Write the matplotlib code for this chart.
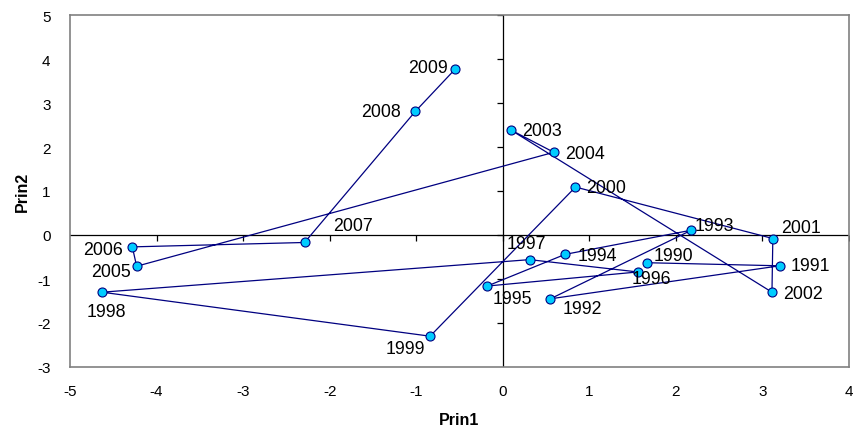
import matplotlib
matplotlib.use("Agg")
import matplotlib.pyplot as plt

plt.rcParams['font.family'] = ['Liberation Sans', 'DejaVu Sans']
plt.rcParams['axes.unicode_minus'] = False

# PCA scores by year
years = [1990, 1991, 1992, 1993, 1994, 1995, 1996, 1997, 1998, 1999,
         2000, 2001, 2002, 2003, 2004, 2005, 2006, 2007, 2008, 2009]
prin1 = [1.67, 3.20, 0.55, 2.18, 0.72, -0.18, 1.56, 0.31, -4.63, -0.84,
         0.84, 3.12, 3.11, 0.09, 0.59, -4.23, -4.28, -2.29, -1.01, -0.55]
prin2 = [-0.63, -0.70, -1.45, 0.11, -0.44, -1.16, -0.84, -0.56, -1.30, -2.30,
         1.09, -0.08, -1.30, 2.39, 1.88, -0.71, -0.27, -0.17, 2.81, 3.77]

x_ticks = [-5, -4, -3, -2, -1, 0, 1, 2, 3, 4]
y_ticks = [-3, -2, -1, 0, 1, 2, 3, 4, 5]

# label offsets in pixels (dx right, dy down)
label_offsets = {
    1990: (26, -7), 1991: (31, 0), 1992: (32, 10), 1993: (23, -5),
    1994: (32, 1), 1995: (25, 12), 1996: (14, 7), 1997: (-3, -16),
    1998: (4, 19), 1999: (-25, 12), 2000: (31, 0), 2001: (28, -11),
    2002: (31, 1), 2003: (31, 1), 2004: (31, 1), 2005: (-26, 5),
    2006: (-29, 3), 2007: (48, -17), 2008: (-34, 0), 2009: (-27, -2),
}

fig = plt.figure(figsize=(8.56, 4.35), dpi=100)
ax = fig.add_axes([70 / 856, 67 / 435, 779 / 856, 352 / 435])

ax.set_xlim(-5, 4)
ax.set_ylim(-3, 5)
for s in ax.spines.values():
    s.set_color('#808080')
    s.set_linewidth(1.2)

ax.set_xticks(x_ticks)
ax.set_yticks(y_ticks)
ax.tick_params(length=0, labelsize=11, colors='black')
ax.tick_params(axis='x', pad=12)
ax.tick_params(axis='y', pad=14)

# axes through the origin with their tick marks
ax.axhline(0, color='black', lw=0.9, zorder=1)
ax.axvline(0, color='black', lw=0.9, zorder=1)
ax.plot(x_ticks[1:], [0] * (len(x_ticks) - 1), ls='', marker=3, ms=4,
        mew=0.9, color='black', zorder=1)
ax.plot([0] * (len(y_ticks) - 1), y_ticks[1:], ls='', marker=0, ms=4,
        mew=0.9, color='black', zorder=1)

ax.plot(prin1, prin2, color='#000080', lw=0.9, marker='o', ms=6.5,
        mfc='#00CCFF', mec='#000080', mew=0.8, zorder=3)

for yr, x, y in zip(years, prin1, prin2):
    dx, dy = label_offsets[yr]
    ax.annotate(str(yr), (x, y), xytext=(dx * 0.72, -dy * 0.72),
                textcoords='offset points', ha='center', va='center',
                fontsize=12.8, zorder=4)

ax.set_xlabel('Prin1', fontsize=11.5, fontweight='bold', labelpad=10)
ax.set_ylabel('Prin2', fontsize=11.5, fontweight='bold', labelpad=5)

fig.savefig('out.png', dpi=100)
